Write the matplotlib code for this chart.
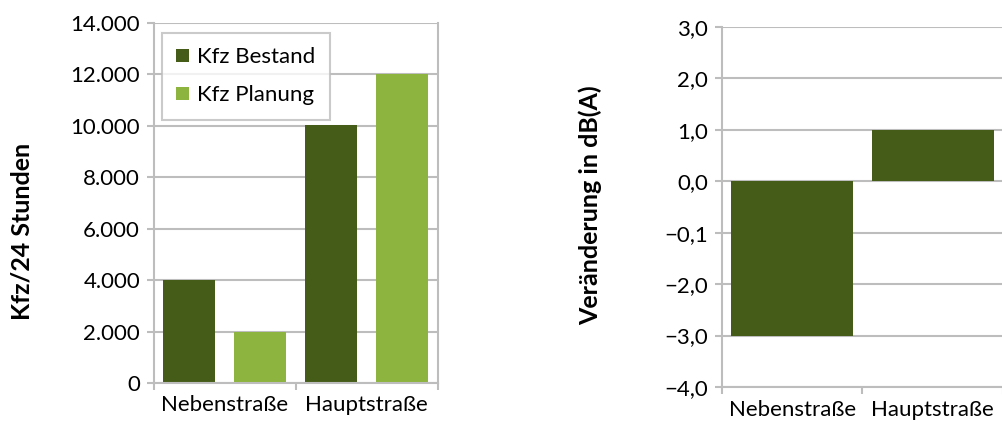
import matplotlib
matplotlib.use("Agg")
import matplotlib.pyplot as plt
import numpy as np

plt.rcParams['font.family'] = ['Lato', 'DejaVu Sans']

# daten
strassen = ["Nebenstraße", "Hauptstraße"]
kfz_bestand = [4000, 10050]
kfz_planung = [2000, 12000]
veraenderung = [-3.0, 1.0]

links_ticks = [0, 2000, 4000, 6000, 8000, 10000, 12000, 14000]
links_labels = ["0", "2.000", "4.000", "6.000", "8.000", "10.000", "12.000", "14.000"]
rechts_ticks = [3, 2, 1, 0, -1, -2, -3, -4]
rechts_labels = ["3,0", "2,0", "1,0", "0,0", "\u22120,1", "\u22122,0", "\u22123,0", "\u22124,0"]

dunkel = "#445c18"
hell = "#8db43f"
grau = "#bdbdbd"
fs = 16
fs_titel = 18

fig = plt.figure(figsize=(10.03, 4.33), dpi=100)

def rahmen(ax, rechts=True):
    ax.set_axisbelow(True)
    ax.grid(axis='y', color=grau, linewidth=1.5)
    for s in ['left', 'bottom', 'right']:
        ax.spines[s].set_color(grau)
        ax.spines[s].set_linewidth(1.5)
    ax.spines['top'].set_visible(False)
    ax.spines['right'].set_visible(rechts)
    ax.tick_params(axis='y', length=5, width=1.5, color=grau, labelsize=fs, pad=5)
    ax.tick_params(axis='x', which='major', length=0, labelsize=fs, pad=9)
    ax.tick_params(axis='x', which='minor', length=5, width=1.5, color=grau)

# linkes diagramm
ax1 = fig.add_axes([0.1535, 0.1155, 0.283, 0.8315])
x = np.arange(len(strassen))
b = 0.366
ax1.bar(x - 0.25, kfz_bestand, b, color=dunkel, label="Kfz Bestand")
ax1.bar(x + 0.25, kfz_planung, b, color=hell, label="Kfz Planung")
ax1.set_xlim(-0.5, len(strassen) - 0.5)
ax1.set_ylim(0, 14000)
ax1.set_yticks(links_ticks)
ax1.set_yticklabels(links_labels)
ax1.set_xticks(x)
ax1.set_xticklabels(strassen)
ax1.set_xticks(np.arange(len(strassen) + 1) - 0.5, minor=True)
rahmen(ax1)
leg = ax1.legend(loc='upper left', bbox_to_anchor=(0.028, 0.972), fontsize=fs,
                 frameon=True, fancybox=False, edgecolor=grau, handlelength=0.55,
                 handleheight=0.55, handletextpad=0.4, borderpad=0.65, labelspacing=0.8,
                 borderaxespad=0)
leg.get_frame().set_linewidth(1.5)
fig.text(0.022, 0.465, "Kfz/24 Stunden", rotation=90, ha='center', va='center',
         fontsize=fs_titel, fontweight='bold')

# rechtes diagramm
ax2 = fig.add_axes([0.7198, 0.1062, 0.2802, 0.8315])
ax2.bar(x, veraenderung, 0.87, color=dunkel)
ax2.set_xlim(-0.5, len(strassen) - 0.5)
ax2.set_ylim(-4, 3)
ax2.set_yticks(rechts_ticks)
ax2.set_yticklabels(rechts_labels)
ax2.set_xticks(x)
ax2.set_xticklabels(strassen)
ax2.set_xticks(np.arange(len(strassen) + 1) - 0.5, minor=True)
rahmen(ax2, rechts=False)
fig.text(0.589, 0.525, "Veränderung in dB(A)", rotation=90, ha='center', va='center',
         fontsize=fs_titel, fontweight='bold')

fig.savefig("out.png", dpi=100)
